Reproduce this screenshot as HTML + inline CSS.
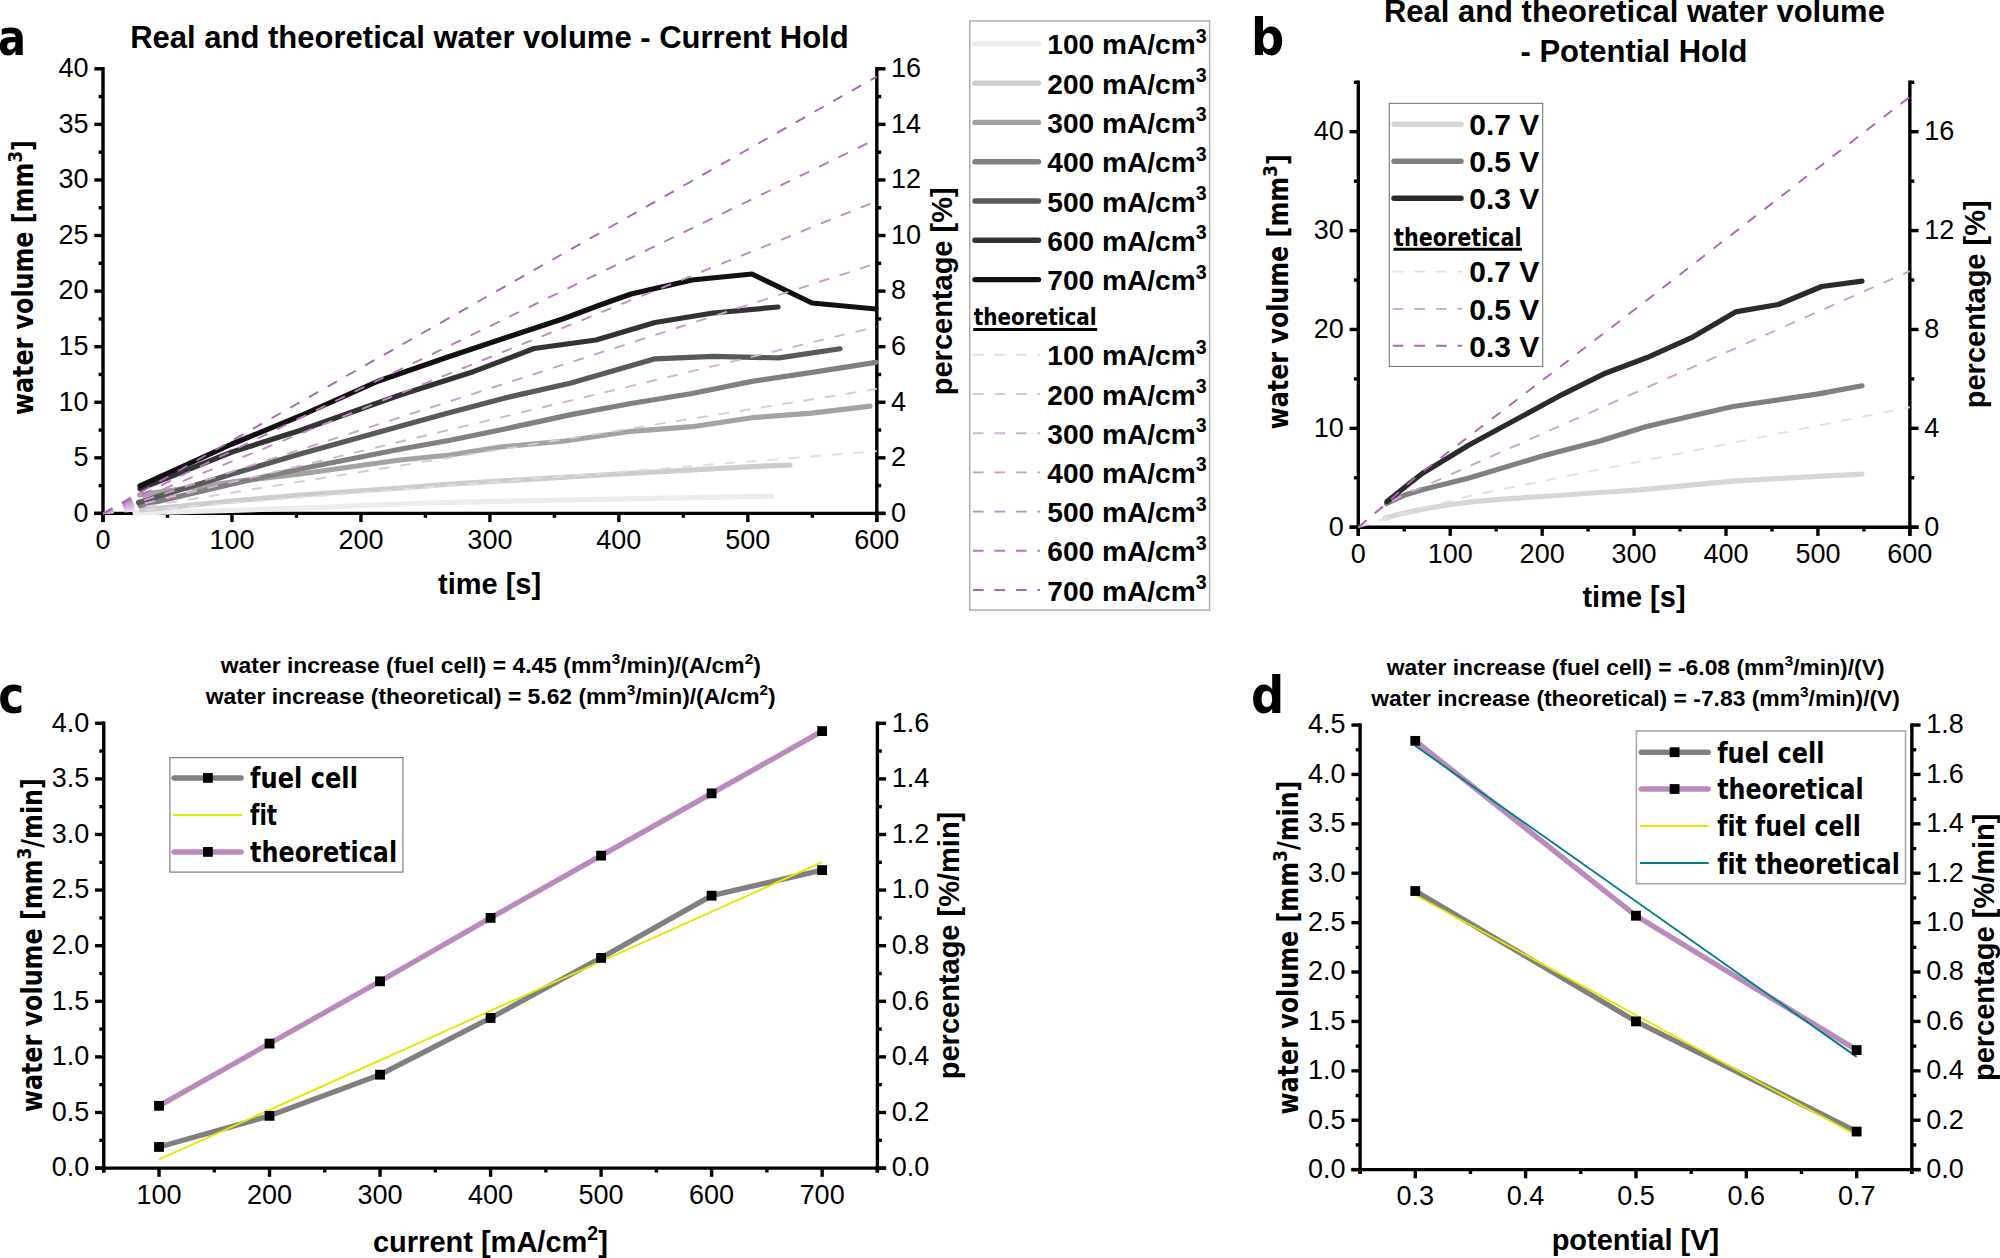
<!DOCTYPE html>
<html lang="en"><head><meta charset="utf-8"><title>Real and theoretical water volume</title>
<style>
html,body{margin:0;padding:0;background:#fff;}
body{width:2000px;height:1258px;overflow:hidden;}
svg{display:block;}
text{fill:#000;font-variant-ligatures:none;font-kerning:normal;}
</style></head><body>
<svg width="2000" height="1258" viewBox="0 0 2000 1258">
<rect width="2000" height="1258" fill="#fff"/>
<g id="panel-a">
<line x1="103" y1="67.1" x2="103" y2="522.1" stroke="#000" stroke-width="3.4" />
<line x1="94.3" y1="513.4" x2="885.5" y2="513.4" stroke="#000" stroke-width="3.4" />
<line x1="876.8" y1="67.1" x2="876.8" y2="522.1" stroke="#000" stroke-width="3.4" />
<line x1="103" y1="513.4" x2="103" y2="522.1" stroke="#000" stroke-width="3.4" />
<text x="103" y="549.2" font-size="27" text-anchor="middle" font-weight="normal" font-family="'Liberation Sans', sans-serif" >0</text>
<line x1="231.97" y1="513.4" x2="231.97" y2="522.1" stroke="#000" stroke-width="3.4" />
<text x="231.97" y="549.2" font-size="27" text-anchor="middle" font-weight="normal" font-family="'Liberation Sans', sans-serif" >100</text>
<line x1="360.93" y1="513.4" x2="360.93" y2="522.1" stroke="#000" stroke-width="3.4" />
<text x="360.93" y="549.2" font-size="27" text-anchor="middle" font-weight="normal" font-family="'Liberation Sans', sans-serif" >200</text>
<line x1="489.9" y1="513.4" x2="489.9" y2="522.1" stroke="#000" stroke-width="3.4" />
<text x="489.9" y="549.2" font-size="27" text-anchor="middle" font-weight="normal" font-family="'Liberation Sans', sans-serif" >300</text>
<line x1="618.87" y1="513.4" x2="618.87" y2="522.1" stroke="#000" stroke-width="3.4" />
<text x="618.87" y="549.2" font-size="27" text-anchor="middle" font-weight="normal" font-family="'Liberation Sans', sans-serif" >400</text>
<line x1="747.83" y1="513.4" x2="747.83" y2="522.1" stroke="#000" stroke-width="3.4" />
<text x="747.83" y="549.2" font-size="27" text-anchor="middle" font-weight="normal" font-family="'Liberation Sans', sans-serif" >500</text>
<line x1="876.8" y1="513.4" x2="876.8" y2="522.1" stroke="#000" stroke-width="3.4" />
<text x="876.8" y="549.2" font-size="27" text-anchor="middle" font-weight="normal" font-family="'Liberation Sans', sans-serif" >600</text>
<line x1="167.48" y1="513.4" x2="167.48" y2="517.8" stroke="#000" stroke-width="3.4" />
<line x1="296.45" y1="513.4" x2="296.45" y2="517.8" stroke="#000" stroke-width="3.4" />
<line x1="425.42" y1="513.4" x2="425.42" y2="517.8" stroke="#000" stroke-width="3.4" />
<line x1="554.38" y1="513.4" x2="554.38" y2="517.8" stroke="#000" stroke-width="3.4" />
<line x1="683.35" y1="513.4" x2="683.35" y2="517.8" stroke="#000" stroke-width="3.4" />
<line x1="812.32" y1="513.4" x2="812.32" y2="517.8" stroke="#000" stroke-width="3.4" />
<line x1="94.3" y1="513.4" x2="103" y2="513.4" stroke="#000" stroke-width="3.4" />
<text x="88.5" y="521.7" font-size="27" text-anchor="end" font-weight="normal" font-family="'Liberation Sans', sans-serif" >0</text>
<line x1="94.3" y1="457.82" x2="103" y2="457.82" stroke="#000" stroke-width="3.4" />
<text x="88.5" y="466.12" font-size="27" text-anchor="end" font-weight="normal" font-family="'Liberation Sans', sans-serif" >5</text>
<line x1="94.3" y1="402.25" x2="103" y2="402.25" stroke="#000" stroke-width="3.4" />
<text x="88.5" y="410.55" font-size="27" text-anchor="end" font-weight="normal" font-family="'Liberation Sans', sans-serif" >10</text>
<line x1="94.3" y1="346.68" x2="103" y2="346.68" stroke="#000" stroke-width="3.4" />
<text x="88.5" y="354.98" font-size="27" text-anchor="end" font-weight="normal" font-family="'Liberation Sans', sans-serif" >15</text>
<line x1="94.3" y1="291.1" x2="103" y2="291.1" stroke="#000" stroke-width="3.4" />
<text x="88.5" y="299.4" font-size="27" text-anchor="end" font-weight="normal" font-family="'Liberation Sans', sans-serif" >20</text>
<line x1="94.3" y1="235.52" x2="103" y2="235.52" stroke="#000" stroke-width="3.4" />
<text x="88.5" y="243.82" font-size="27" text-anchor="end" font-weight="normal" font-family="'Liberation Sans', sans-serif" >25</text>
<line x1="94.3" y1="179.95" x2="103" y2="179.95" stroke="#000" stroke-width="3.4" />
<text x="88.5" y="188.25" font-size="27" text-anchor="end" font-weight="normal" font-family="'Liberation Sans', sans-serif" >30</text>
<line x1="94.3" y1="124.38" x2="103" y2="124.38" stroke="#000" stroke-width="3.4" />
<text x="88.5" y="132.68" font-size="27" text-anchor="end" font-weight="normal" font-family="'Liberation Sans', sans-serif" >35</text>
<line x1="94.3" y1="68.8" x2="103" y2="68.8" stroke="#000" stroke-width="3.4" />
<text x="88.5" y="77.1" font-size="27" text-anchor="end" font-weight="normal" font-family="'Liberation Sans', sans-serif" >40</text>
<line x1="98.6" y1="485.61" x2="103" y2="485.61" stroke="#000" stroke-width="3.4" />
<line x1="98.6" y1="430.04" x2="103" y2="430.04" stroke="#000" stroke-width="3.4" />
<line x1="98.6" y1="374.46" x2="103" y2="374.46" stroke="#000" stroke-width="3.4" />
<line x1="98.6" y1="318.89" x2="103" y2="318.89" stroke="#000" stroke-width="3.4" />
<line x1="98.6" y1="263.31" x2="103" y2="263.31" stroke="#000" stroke-width="3.4" />
<line x1="98.6" y1="207.74" x2="103" y2="207.74" stroke="#000" stroke-width="3.4" />
<line x1="98.6" y1="152.16" x2="103" y2="152.16" stroke="#000" stroke-width="3.4" />
<line x1="98.6" y1="96.59" x2="103" y2="96.59" stroke="#000" stroke-width="3.4" />
<line x1="876.8" y1="513.4" x2="885.5" y2="513.4" stroke="#000" stroke-width="3.4" />
<text x="891.1" y="521.7" font-size="27" text-anchor="start" font-weight="normal" font-family="'Liberation Sans', sans-serif" >0</text>
<line x1="876.8" y1="457.82" x2="885.5" y2="457.82" stroke="#000" stroke-width="3.4" />
<text x="891.1" y="466.12" font-size="27" text-anchor="start" font-weight="normal" font-family="'Liberation Sans', sans-serif" >2</text>
<line x1="876.8" y1="402.25" x2="885.5" y2="402.25" stroke="#000" stroke-width="3.4" />
<text x="891.1" y="410.55" font-size="27" text-anchor="start" font-weight="normal" font-family="'Liberation Sans', sans-serif" >4</text>
<line x1="876.8" y1="346.68" x2="885.5" y2="346.68" stroke="#000" stroke-width="3.4" />
<text x="891.1" y="354.98" font-size="27" text-anchor="start" font-weight="normal" font-family="'Liberation Sans', sans-serif" >6</text>
<line x1="876.8" y1="291.1" x2="885.5" y2="291.1" stroke="#000" stroke-width="3.4" />
<text x="891.1" y="299.4" font-size="27" text-anchor="start" font-weight="normal" font-family="'Liberation Sans', sans-serif" >8</text>
<line x1="876.8" y1="235.52" x2="885.5" y2="235.52" stroke="#000" stroke-width="3.4" />
<text x="891.1" y="243.82" font-size="27" text-anchor="start" font-weight="normal" font-family="'Liberation Sans', sans-serif" >10</text>
<line x1="876.8" y1="179.95" x2="885.5" y2="179.95" stroke="#000" stroke-width="3.4" />
<text x="891.1" y="188.25" font-size="27" text-anchor="start" font-weight="normal" font-family="'Liberation Sans', sans-serif" >12</text>
<line x1="876.8" y1="124.38" x2="885.5" y2="124.38" stroke="#000" stroke-width="3.4" />
<text x="891.1" y="132.68" font-size="27" text-anchor="start" font-weight="normal" font-family="'Liberation Sans', sans-serif" >14</text>
<line x1="876.8" y1="68.8" x2="885.5" y2="68.8" stroke="#000" stroke-width="3.4" />
<text x="891.1" y="77.1" font-size="27" text-anchor="start" font-weight="normal" font-family="'Liberation Sans', sans-serif" >16</text>
<line x1="876.8" y1="485.61" x2="881.2" y2="485.61" stroke="#000" stroke-width="3.4" />
<line x1="876.8" y1="430.04" x2="881.2" y2="430.04" stroke="#000" stroke-width="3.4" />
<line x1="876.8" y1="374.46" x2="881.2" y2="374.46" stroke="#000" stroke-width="3.4" />
<line x1="876.8" y1="318.89" x2="881.2" y2="318.89" stroke="#000" stroke-width="3.4" />
<line x1="876.8" y1="263.31" x2="881.2" y2="263.31" stroke="#000" stroke-width="3.4" />
<line x1="876.8" y1="207.74" x2="881.2" y2="207.74" stroke="#000" stroke-width="3.4" />
<line x1="876.8" y1="152.16" x2="881.2" y2="152.16" stroke="#000" stroke-width="3.4" />
<line x1="876.8" y1="96.59" x2="881.2" y2="96.59" stroke="#000" stroke-width="3.4" />
<polyline points="135,512.8 232,510.5 300,508 400,504 450,502.3 600,499.3 772,496.2" fill="none" stroke="#ececec" stroke-width="5.2" stroke-linecap="round" stroke-linejoin="round"/>
<polyline points="141.5,510 232,501 300,495 400,488 450,484.1 500,481 601,475 752,466.6 790,465.1" fill="none" stroke="#cdcdcd" stroke-width="5.2" stroke-linecap="round" stroke-linejoin="round"/>
<polyline points="139.5,494.8 232,482 300,474 400,460 450,455 500,447 565,441 631,431.3 692,426.7 752,417.7 812,413.1 870,406.2" fill="none" stroke="#a3a3a3" stroke-width="5.2" stroke-linecap="round" stroke-linejoin="round"/>
<polyline points="140,505.6 232,484 300,469 400,449.3 450,440.3 500,430 571,414.6 631,403.5 692,393.5 752,381.4 812,372.4 876,362.4" fill="none" stroke="#808080" stroke-width="5.2" stroke-linecap="round" stroke-linejoin="round"/>
<polyline points="138.5,502.6 232,474 300,454 400,426.2 450,412.4 507,397.5 571,383 655,358.8 713,356.3 779,357.9 840,348.8" fill="none" stroke="#595959" stroke-width="5.2" stroke-linecap="round" stroke-linejoin="round"/>
<polyline points="140,488.8 232,452 300,430.5 400,395 474,371.4 534,348.5 596,340 655,322.5 713,313 778,307" fill="none" stroke="#333333" stroke-width="5.2" stroke-linecap="round" stroke-linejoin="round"/>
<polyline points="140,485.8 232,444 300,416 378.5,381 445,358 520,333 564,318.5 600,305 631,294 692,280 752,274 812,303 876,309" fill="none" stroke="#111111" stroke-width="5.2" stroke-linecap="round" stroke-linejoin="round"/>
<line x1="103" y1="513.4" x2="876.8" y2="451.16" stroke="#ead7ea" stroke-width="1.9" stroke-dasharray="10.7 10.8"/>
<line x1="103" y1="513.4" x2="876.8" y2="388.91" stroke="#dfc4e1" stroke-width="1.9" stroke-dasharray="10.7 10.8"/>
<line x1="103" y1="513.4" x2="876.8" y2="326.67" stroke="#d5b1d7" stroke-width="1.9" stroke-dasharray="10.7 10.8"/>
<line x1="103" y1="513.4" x2="876.8" y2="263.31" stroke="#ca9ecd" stroke-width="1.9" stroke-dasharray="10.7 10.8"/>
<line x1="103" y1="513.4" x2="876.8" y2="201.07" stroke="#c08bc4" stroke-width="1.9" stroke-dasharray="10.7 10.8"/>
<line x1="103" y1="513.4" x2="876.8" y2="138.82" stroke="#b578ba" stroke-width="1.9" stroke-dasharray="10.7 10.8"/>
<line x1="103" y1="513.4" x2="876.8" y2="76.58" stroke="#ab66b1" stroke-width="1.9" stroke-dasharray="10.7 10.8"/>
<text x="130.2" y="48" font-size="31" text-anchor="start" font-weight="bold" font-family="'Liberation Sans', sans-serif" textLength="718.5" lengthAdjust="spacingAndGlyphs">Real and theoretical water volume - Current Hold</text>
<text x="489.6" y="593.6" font-size="29" text-anchor="middle" font-weight="bold" font-family="'Liberation Sans', sans-serif" >time [s]</text>
<text transform="translate(33.2 277.5) rotate(-90)" font-size="28" text-anchor="middle" font-weight="bold" font-family="'DejaVu Sans Condensed', 'DejaVu Sans', 'Liberation Sans', sans-serif" textLength="275" lengthAdjust="spacingAndGlyphs">water volume [mm<tspan dy="-11.2" font-size="72%">3</tspan><tspan dy="11.2">]</tspan></text>
<text transform="translate(952.1 291.3) rotate(-90)" font-size="29" text-anchor="middle" font-weight="bold" font-family="'Liberation Sans', sans-serif" >percentage [%]</text>
<text x="-2" y="55.2" font-size="50.5" text-anchor="start" font-weight="bold" font-family="'DejaVu Sans Condensed', 'DejaVu Sans', 'Liberation Sans', sans-serif" textLength="28" lengthAdjust="spacingAndGlyphs">a</text>
<rect x="969.7" y="20.9" width="239.9" height="589.2" fill="#fff" stroke="#a9a9a9" stroke-width="1.4"/>
<line x1="975" y1="43.75" x2="1038.5" y2="43.75" stroke="#ececec" stroke-width="5.4" stroke-linecap="round"/>
<text x="1047.3" y="54.35" font-size="28.1" text-anchor="start" font-weight="bold" font-family="'Liberation Sans', sans-serif" >100 mA/cm<tspan dy="-11.6" font-size="70%">3</tspan></text>
<line x1="975" y1="83.1" x2="1038.5" y2="83.1" stroke="#cdcdcd" stroke-width="5.4" stroke-linecap="round"/>
<text x="1047.3" y="93.7" font-size="28.1" text-anchor="start" font-weight="bold" font-family="'Liberation Sans', sans-serif" >200 mA/cm<tspan dy="-11.6" font-size="70%">3</tspan></text>
<line x1="975" y1="122.4" x2="1038.5" y2="122.4" stroke="#a3a3a3" stroke-width="5.4" stroke-linecap="round"/>
<text x="1047.3" y="133" font-size="28.1" text-anchor="start" font-weight="bold" font-family="'Liberation Sans', sans-serif" >300 mA/cm<tspan dy="-11.6" font-size="70%">3</tspan></text>
<line x1="975" y1="161.7" x2="1038.5" y2="161.7" stroke="#808080" stroke-width="5.4" stroke-linecap="round"/>
<text x="1047.3" y="172.3" font-size="28.1" text-anchor="start" font-weight="bold" font-family="'Liberation Sans', sans-serif" >400 mA/cm<tspan dy="-11.6" font-size="70%">3</tspan></text>
<line x1="975" y1="201" x2="1038.5" y2="201" stroke="#595959" stroke-width="5.4" stroke-linecap="round"/>
<text x="1047.3" y="211.6" font-size="28.1" text-anchor="start" font-weight="bold" font-family="'Liberation Sans', sans-serif" >500 mA/cm<tspan dy="-11.6" font-size="70%">3</tspan></text>
<line x1="975" y1="240.3" x2="1038.5" y2="240.3" stroke="#333333" stroke-width="5.4" stroke-linecap="round"/>
<text x="1047.3" y="250.9" font-size="28.1" text-anchor="start" font-weight="bold" font-family="'Liberation Sans', sans-serif" >600 mA/cm<tspan dy="-11.6" font-size="70%">3</tspan></text>
<line x1="975" y1="279.6" x2="1038.5" y2="279.6" stroke="#111111" stroke-width="5.4" stroke-linecap="round"/>
<text x="1047.3" y="290.2" font-size="28.1" text-anchor="start" font-weight="bold" font-family="'Liberation Sans', sans-serif" >700 mA/cm<tspan dy="-11.6" font-size="70%">3</tspan></text>
<text x="973.7" y="325.4" font-size="23" text-anchor="start" font-weight="bold" font-family="'DejaVu Sans Condensed', 'DejaVu Sans', 'Liberation Sans', sans-serif" textLength="123" lengthAdjust="spacingAndGlyphs">theoretical</text>
<line x1="973.3" y1="329.4" x2="1097.2" y2="329.4" stroke="#000" stroke-width="3" />
<line x1="972.9" y1="354.7" x2="1040" y2="354.7" stroke="#ead7ea" stroke-width="1.9" stroke-dasharray="10.7 10.8"/>
<text x="1047.3" y="365.3" font-size="28.1" text-anchor="start" font-weight="bold" font-family="'Liberation Sans', sans-serif" >100 mA/cm<tspan dy="-11.6" font-size="70%">3</tspan></text>
<line x1="972.9" y1="394" x2="1040" y2="394" stroke="#dfc4e1" stroke-width="1.9" stroke-dasharray="10.7 10.8"/>
<text x="1047.3" y="404.6" font-size="28.1" text-anchor="start" font-weight="bold" font-family="'Liberation Sans', sans-serif" >200 mA/cm<tspan dy="-11.6" font-size="70%">3</tspan></text>
<line x1="972.9" y1="433.2" x2="1040" y2="433.2" stroke="#d5b1d7" stroke-width="1.9" stroke-dasharray="10.7 10.8"/>
<text x="1047.3" y="443.8" font-size="28.1" text-anchor="start" font-weight="bold" font-family="'Liberation Sans', sans-serif" >300 mA/cm<tspan dy="-11.6" font-size="70%">3</tspan></text>
<line x1="972.9" y1="472.4" x2="1040" y2="472.4" stroke="#ca9ecd" stroke-width="1.9" stroke-dasharray="10.7 10.8"/>
<text x="1047.3" y="483" font-size="28.1" text-anchor="start" font-weight="bold" font-family="'Liberation Sans', sans-serif" >400 mA/cm<tspan dy="-11.6" font-size="70%">3</tspan></text>
<line x1="972.9" y1="511.6" x2="1040" y2="511.6" stroke="#c08bc4" stroke-width="1.9" stroke-dasharray="10.7 10.8"/>
<text x="1047.3" y="522.2" font-size="28.1" text-anchor="start" font-weight="bold" font-family="'Liberation Sans', sans-serif" >500 mA/cm<tspan dy="-11.6" font-size="70%">3</tspan></text>
<line x1="972.9" y1="550.8" x2="1040" y2="550.8" stroke="#b578ba" stroke-width="1.9" stroke-dasharray="10.7 10.8"/>
<text x="1047.3" y="561.4" font-size="28.1" text-anchor="start" font-weight="bold" font-family="'Liberation Sans', sans-serif" >600 mA/cm<tspan dy="-11.6" font-size="70%">3</tspan></text>
<line x1="972.9" y1="590" x2="1040" y2="590" stroke="#ab66b1" stroke-width="1.9" stroke-dasharray="10.7 10.8"/>
<text x="1047.3" y="600.6" font-size="28.1" text-anchor="start" font-weight="bold" font-family="'Liberation Sans', sans-serif" >700 mA/cm<tspan dy="-11.6" font-size="70%">3</tspan></text>
</g>
<g id="panel-b">
<line x1="1358.3" y1="80.6" x2="1358.3" y2="535.9" stroke="#000" stroke-width="3.4" />
<line x1="1349.6" y1="527.2" x2="1918.55" y2="527.2" stroke="#000" stroke-width="3.4" />
<line x1="1909.85" y1="80.6" x2="1909.85" y2="535.9" stroke="#000" stroke-width="3.4" />
<line x1="1358.3" y1="527.2" x2="1358.3" y2="535.9" stroke="#000" stroke-width="3.4" />
<text x="1358.3" y="563" font-size="27" text-anchor="middle" font-weight="normal" font-family="'Liberation Sans', sans-serif" >0</text>
<line x1="1450.22" y1="527.2" x2="1450.22" y2="535.9" stroke="#000" stroke-width="3.4" />
<text x="1450.22" y="563" font-size="27" text-anchor="middle" font-weight="normal" font-family="'Liberation Sans', sans-serif" >100</text>
<line x1="1542.15" y1="527.2" x2="1542.15" y2="535.9" stroke="#000" stroke-width="3.4" />
<text x="1542.15" y="563" font-size="27" text-anchor="middle" font-weight="normal" font-family="'Liberation Sans', sans-serif" >200</text>
<line x1="1634.07" y1="527.2" x2="1634.07" y2="535.9" stroke="#000" stroke-width="3.4" />
<text x="1634.07" y="563" font-size="27" text-anchor="middle" font-weight="normal" font-family="'Liberation Sans', sans-serif" >300</text>
<line x1="1726" y1="527.2" x2="1726" y2="535.9" stroke="#000" stroke-width="3.4" />
<text x="1726" y="563" font-size="27" text-anchor="middle" font-weight="normal" font-family="'Liberation Sans', sans-serif" >400</text>
<line x1="1817.92" y1="527.2" x2="1817.92" y2="535.9" stroke="#000" stroke-width="3.4" />
<text x="1817.92" y="563" font-size="27" text-anchor="middle" font-weight="normal" font-family="'Liberation Sans', sans-serif" >500</text>
<line x1="1909.85" y1="527.2" x2="1909.85" y2="535.9" stroke="#000" stroke-width="3.4" />
<text x="1909.85" y="563" font-size="27" text-anchor="middle" font-weight="normal" font-family="'Liberation Sans', sans-serif" >600</text>
<line x1="1404.26" y1="527.2" x2="1404.26" y2="531.6" stroke="#000" stroke-width="3.4" />
<line x1="1496.19" y1="527.2" x2="1496.19" y2="531.6" stroke="#000" stroke-width="3.4" />
<line x1="1588.11" y1="527.2" x2="1588.11" y2="531.6" stroke="#000" stroke-width="3.4" />
<line x1="1680.04" y1="527.2" x2="1680.04" y2="531.6" stroke="#000" stroke-width="3.4" />
<line x1="1771.96" y1="527.2" x2="1771.96" y2="531.6" stroke="#000" stroke-width="3.4" />
<line x1="1863.89" y1="527.2" x2="1863.89" y2="531.6" stroke="#000" stroke-width="3.4" />
<line x1="1349.6" y1="527.2" x2="1358.3" y2="527.2" stroke="#000" stroke-width="3.4" />
<text x="1343.8" y="535.5" font-size="27" text-anchor="end" font-weight="normal" font-family="'Liberation Sans', sans-serif" >0</text>
<line x1="1349.6" y1="428.33" x2="1358.3" y2="428.33" stroke="#000" stroke-width="3.4" />
<text x="1343.8" y="436.63" font-size="27" text-anchor="end" font-weight="normal" font-family="'Liberation Sans', sans-serif" >10</text>
<line x1="1349.6" y1="329.47" x2="1358.3" y2="329.47" stroke="#000" stroke-width="3.4" />
<text x="1343.8" y="337.77" font-size="27" text-anchor="end" font-weight="normal" font-family="'Liberation Sans', sans-serif" >20</text>
<line x1="1349.6" y1="230.6" x2="1358.3" y2="230.6" stroke="#000" stroke-width="3.4" />
<text x="1343.8" y="238.9" font-size="27" text-anchor="end" font-weight="normal" font-family="'Liberation Sans', sans-serif" >30</text>
<line x1="1349.6" y1="131.73" x2="1358.3" y2="131.73" stroke="#000" stroke-width="3.4" />
<text x="1343.8" y="140.03" font-size="27" text-anchor="end" font-weight="normal" font-family="'Liberation Sans', sans-serif" >40</text>
<line x1="1353.9" y1="477.77" x2="1358.3" y2="477.77" stroke="#000" stroke-width="3.4" />
<line x1="1353.9" y1="378.9" x2="1358.3" y2="378.9" stroke="#000" stroke-width="3.4" />
<line x1="1353.9" y1="280.03" x2="1358.3" y2="280.03" stroke="#000" stroke-width="3.4" />
<line x1="1353.9" y1="181.17" x2="1358.3" y2="181.17" stroke="#000" stroke-width="3.4" />
<line x1="1353.9" y1="82.3" x2="1358.3" y2="82.3" stroke="#000" stroke-width="3.4" />
<line x1="1909.85" y1="527.2" x2="1918.55" y2="527.2" stroke="#000" stroke-width="3.4" />
<text x="1924.15" y="535.5" font-size="27" text-anchor="start" font-weight="normal" font-family="'Liberation Sans', sans-serif" >0</text>
<line x1="1909.85" y1="428.33" x2="1918.55" y2="428.33" stroke="#000" stroke-width="3.4" />
<text x="1924.15" y="436.63" font-size="27" text-anchor="start" font-weight="normal" font-family="'Liberation Sans', sans-serif" >4</text>
<line x1="1909.85" y1="329.47" x2="1918.55" y2="329.47" stroke="#000" stroke-width="3.4" />
<text x="1924.15" y="337.77" font-size="27" text-anchor="start" font-weight="normal" font-family="'Liberation Sans', sans-serif" >8</text>
<line x1="1909.85" y1="230.6" x2="1918.55" y2="230.6" stroke="#000" stroke-width="3.4" />
<text x="1924.15" y="238.9" font-size="27" text-anchor="start" font-weight="normal" font-family="'Liberation Sans', sans-serif" >12</text>
<line x1="1909.85" y1="131.73" x2="1918.55" y2="131.73" stroke="#000" stroke-width="3.4" />
<text x="1924.15" y="140.03" font-size="27" text-anchor="start" font-weight="normal" font-family="'Liberation Sans', sans-serif" >16</text>
<line x1="1909.85" y1="477.77" x2="1914.25" y2="477.77" stroke="#000" stroke-width="3.4" />
<line x1="1909.85" y1="378.9" x2="1914.25" y2="378.9" stroke="#000" stroke-width="3.4" />
<line x1="1909.85" y1="280.03" x2="1914.25" y2="280.03" stroke="#000" stroke-width="3.4" />
<line x1="1909.85" y1="181.17" x2="1914.25" y2="181.17" stroke="#000" stroke-width="3.4" />
<line x1="1909.85" y1="82.3" x2="1914.25" y2="82.3" stroke="#000" stroke-width="3.4" />
<polyline points="1385,518 1400,514 1425,508.6 1450,504.6 1473.4,501.6 1510,498.6 1550,496 1600,492.5 1640,489.8 1733,481.2 1817,476.3 1862,474.2" fill="none" stroke="#d6d6d6" stroke-width="5.2" stroke-linecap="round" stroke-linejoin="round"/>
<polyline points="1386.5,503.5 1405,495 1423,489.6 1469,478 1545,455.2 1600,441 1646.5,426.5 1700,414 1733,406.5 1817,394.1 1862,385.8" fill="none" stroke="#808080" stroke-width="5.2" stroke-linecap="round" stroke-linejoin="round"/>
<polyline points="1387,501.5 1410,483 1423,473 1469,445 1541,406 1558,396.7 1604,373.8 1646.5,357.8 1691.5,337.7 1735.5,311.9 1778.3,304.5 1821.7,286.5 1862,281.2" fill="none" stroke="#2b2b2b" stroke-width="5.2" stroke-linecap="round" stroke-linejoin="round"/>
<polyline points="1358.4,527.2 1388.6,517.5 1430.5,505.7 1471.8,495.5 1514.2,486.9 1550,479.6 1700,449.4 1830.7,423 1909.85,407.3" fill="none" stroke="#ecd9ec" stroke-width="1.9" stroke-dasharray="10.7 10.8"/>
<polyline points="1358.4,527.2 1383.3,506.2 1400.4,496.6 1439.6,479.5 1477.7,462.4 1536.2,436.5 1610,403.8 1735.4,348.3 1830.7,306.1 1909.85,271.1" fill="none" stroke="#cfa0d2" stroke-width="1.9" stroke-dasharray="10.7 10.8"/>
<polyline points="1358.4,527.2 1383.3,506.2 1415.5,477.3 1447.6,452.6 1481.4,426.8 1516.3,400.3 1543.4,379.6 1640,305.5 1722,242 1909.85,96.8" fill="none" stroke="#ad66b3" stroke-width="1.9" stroke-dasharray="10.7 10.8"/>
<text x="1634.4" y="21.6" font-size="31" text-anchor="middle" font-weight="bold" font-family="'Liberation Sans', sans-serif" textLength="501" lengthAdjust="spacingAndGlyphs">Real and theoretical water volume</text>
<text x="1634" y="61.8" font-size="31" text-anchor="middle" font-weight="bold" font-family="'Liberation Sans', sans-serif" textLength="227" lengthAdjust="spacingAndGlyphs">- Potential Hold</text>
<text x="1634" y="607.4" font-size="29" text-anchor="middle" font-weight="bold" font-family="'Liberation Sans', sans-serif" >time [s]</text>
<text transform="translate(1288.4 291.7) rotate(-90)" font-size="28" text-anchor="middle" font-weight="bold" font-family="'DejaVu Sans Condensed', 'DejaVu Sans', 'Liberation Sans', sans-serif" textLength="275" lengthAdjust="spacingAndGlyphs">water volume [mm<tspan dy="-11.2" font-size="72%">3</tspan><tspan dy="11.2">]</tspan></text>
<text transform="translate(1985.1 304.3) rotate(-90)" font-size="29" text-anchor="middle" font-weight="bold" font-family="'Liberation Sans', sans-serif" >percentage [%]</text>
<text x="1251" y="54.8" font-size="51.5" text-anchor="start" font-weight="bold" font-family="'DejaVu Sans Condensed', 'DejaVu Sans', 'Liberation Sans', sans-serif" textLength="33.2" lengthAdjust="spacingAndGlyphs">b</text>
<rect x="1389.3" y="103.35" width="153.4" height="263.1" fill="#fff" stroke="#7a7a7a" stroke-width="1.1"/>
<line x1="1394" y1="124.2" x2="1461" y2="124.2" stroke="#d6d6d6" stroke-width="5.5" stroke-linecap="round"/>
<text x="1469.3" y="134.9" font-size="30" text-anchor="start" font-weight="bold" font-family="'Liberation Sans', sans-serif" >0.7 V</text>
<line x1="1394" y1="161.2" x2="1461" y2="161.2" stroke="#808080" stroke-width="5.5" stroke-linecap="round"/>
<text x="1469.3" y="171.9" font-size="30" text-anchor="start" font-weight="bold" font-family="'Liberation Sans', sans-serif" >0.5 V</text>
<line x1="1394" y1="198.2" x2="1461" y2="198.2" stroke="#2b2b2b" stroke-width="5.5" stroke-linecap="round"/>
<text x="1469.3" y="208.9" font-size="30" text-anchor="start" font-weight="bold" font-family="'Liberation Sans', sans-serif" >0.3 V</text>
<text x="1394" y="245.5" font-size="24.2" text-anchor="start" font-weight="bold" font-family="'DejaVu Sans Condensed', 'DejaVu Sans', 'Liberation Sans', sans-serif" textLength="127.6" lengthAdjust="spacingAndGlyphs">theoretical</text>
<line x1="1393.5" y1="249.3" x2="1522" y2="249.3" stroke="#000" stroke-width="3.1" />
<line x1="1392.7" y1="271.6" x2="1462" y2="271.6" stroke="#ecd9ec" stroke-width="1.9" stroke-dasharray="10.7 10.9"/>
<text x="1469.3" y="282.3" font-size="30" text-anchor="start" font-weight="bold" font-family="'Liberation Sans', sans-serif" >0.7 V</text>
<line x1="1392.7" y1="308.9" x2="1462" y2="308.9" stroke="#cfa0d2" stroke-width="1.9" stroke-dasharray="10.7 10.9"/>
<text x="1469.3" y="319.6" font-size="30" text-anchor="start" font-weight="bold" font-family="'Liberation Sans', sans-serif" >0.5 V</text>
<line x1="1392.7" y1="345.8" x2="1462" y2="345.8" stroke="#ad66b3" stroke-width="1.9" stroke-dasharray="10.7 10.9"/>
<text x="1469.3" y="356.5" font-size="30" text-anchor="start" font-weight="bold" font-family="'Liberation Sans', sans-serif" >0.3 V</text>
</g>
<g id="panel-c">
<line x1="103.75" y1="721.6" x2="103.75" y2="1172.5" stroke="#000" stroke-width="3.4" />
<line x1="95.05" y1="1168.1" x2="886.1" y2="1168.1" stroke="#000" stroke-width="3.4" />
<line x1="877.4" y1="721.6" x2="877.4" y2="1172.5" stroke="#000" stroke-width="3.4" />
<line x1="159.01" y1="1168.1" x2="159.01" y2="1176.8" stroke="#000" stroke-width="3.4" />
<text x="159.01" y="1203.9" font-size="27" text-anchor="middle" font-weight="normal" font-family="'Liberation Sans', sans-serif" >100</text>
<line x1="269.53" y1="1168.1" x2="269.53" y2="1176.8" stroke="#000" stroke-width="3.4" />
<text x="269.53" y="1203.9" font-size="27" text-anchor="middle" font-weight="normal" font-family="'Liberation Sans', sans-serif" >200</text>
<line x1="380.05" y1="1168.1" x2="380.05" y2="1176.8" stroke="#000" stroke-width="3.4" />
<text x="380.05" y="1203.9" font-size="27" text-anchor="middle" font-weight="normal" font-family="'Liberation Sans', sans-serif" >300</text>
<line x1="490.57" y1="1168.1" x2="490.57" y2="1176.8" stroke="#000" stroke-width="3.4" />
<text x="490.57" y="1203.9" font-size="27" text-anchor="middle" font-weight="normal" font-family="'Liberation Sans', sans-serif" >400</text>
<line x1="601.1" y1="1168.1" x2="601.1" y2="1176.8" stroke="#000" stroke-width="3.4" />
<text x="601.1" y="1203.9" font-size="27" text-anchor="middle" font-weight="normal" font-family="'Liberation Sans', sans-serif" >500</text>
<line x1="711.62" y1="1168.1" x2="711.62" y2="1176.8" stroke="#000" stroke-width="3.4" />
<text x="711.62" y="1203.9" font-size="27" text-anchor="middle" font-weight="normal" font-family="'Liberation Sans', sans-serif" >600</text>
<line x1="822.14" y1="1168.1" x2="822.14" y2="1176.8" stroke="#000" stroke-width="3.4" />
<text x="822.14" y="1203.9" font-size="27" text-anchor="middle" font-weight="normal" font-family="'Liberation Sans', sans-serif" >700</text>
<line x1="103.75" y1="1168.1" x2="103.75" y2="1172.5" stroke="#000" stroke-width="3.4" />
<line x1="214.27" y1="1168.1" x2="214.27" y2="1172.5" stroke="#000" stroke-width="3.4" />
<line x1="324.79" y1="1168.1" x2="324.79" y2="1172.5" stroke="#000" stroke-width="3.4" />
<line x1="435.31" y1="1168.1" x2="435.31" y2="1172.5" stroke="#000" stroke-width="3.4" />
<line x1="545.84" y1="1168.1" x2="545.84" y2="1172.5" stroke="#000" stroke-width="3.4" />
<line x1="656.36" y1="1168.1" x2="656.36" y2="1172.5" stroke="#000" stroke-width="3.4" />
<line x1="766.88" y1="1168.1" x2="766.88" y2="1172.5" stroke="#000" stroke-width="3.4" />
<line x1="877.4" y1="1168.1" x2="877.4" y2="1172.5" stroke="#000" stroke-width="3.4" />
<line x1="95.05" y1="1168.1" x2="103.75" y2="1168.1" stroke="#000" stroke-width="3.4" />
<text x="89.25" y="1176.4" font-size="27" text-anchor="end" font-weight="normal" font-family="'Liberation Sans', sans-serif" >0.0</text>
<line x1="95.05" y1="1112.5" x2="103.75" y2="1112.5" stroke="#000" stroke-width="3.4" />
<text x="89.25" y="1120.8" font-size="27" text-anchor="end" font-weight="normal" font-family="'Liberation Sans', sans-serif" >0.5</text>
<line x1="95.05" y1="1056.9" x2="103.75" y2="1056.9" stroke="#000" stroke-width="3.4" />
<text x="89.25" y="1065.2" font-size="27" text-anchor="end" font-weight="normal" font-family="'Liberation Sans', sans-serif" >1.0</text>
<line x1="95.05" y1="1001.3" x2="103.75" y2="1001.3" stroke="#000" stroke-width="3.4" />
<text x="89.25" y="1009.6" font-size="27" text-anchor="end" font-weight="normal" font-family="'Liberation Sans', sans-serif" >1.5</text>
<line x1="95.05" y1="945.7" x2="103.75" y2="945.7" stroke="#000" stroke-width="3.4" />
<text x="89.25" y="954" font-size="27" text-anchor="end" font-weight="normal" font-family="'Liberation Sans', sans-serif" >2.0</text>
<line x1="95.05" y1="890.1" x2="103.75" y2="890.1" stroke="#000" stroke-width="3.4" />
<text x="89.25" y="898.4" font-size="27" text-anchor="end" font-weight="normal" font-family="'Liberation Sans', sans-serif" >2.5</text>
<line x1="95.05" y1="834.5" x2="103.75" y2="834.5" stroke="#000" stroke-width="3.4" />
<text x="89.25" y="842.8" font-size="27" text-anchor="end" font-weight="normal" font-family="'Liberation Sans', sans-serif" >3.0</text>
<line x1="95.05" y1="778.9" x2="103.75" y2="778.9" stroke="#000" stroke-width="3.4" />
<text x="89.25" y="787.2" font-size="27" text-anchor="end" font-weight="normal" font-family="'Liberation Sans', sans-serif" >3.5</text>
<line x1="95.05" y1="723.3" x2="103.75" y2="723.3" stroke="#000" stroke-width="3.4" />
<text x="89.25" y="731.6" font-size="27" text-anchor="end" font-weight="normal" font-family="'Liberation Sans', sans-serif" >4.0</text>
<line x1="99.35" y1="1140.3" x2="103.75" y2="1140.3" stroke="#000" stroke-width="3.4" />
<line x1="99.35" y1="1084.7" x2="103.75" y2="1084.7" stroke="#000" stroke-width="3.4" />
<line x1="99.35" y1="1029.1" x2="103.75" y2="1029.1" stroke="#000" stroke-width="3.4" />
<line x1="99.35" y1="973.5" x2="103.75" y2="973.5" stroke="#000" stroke-width="3.4" />
<line x1="99.35" y1="917.9" x2="103.75" y2="917.9" stroke="#000" stroke-width="3.4" />
<line x1="99.35" y1="862.3" x2="103.75" y2="862.3" stroke="#000" stroke-width="3.4" />
<line x1="99.35" y1="806.7" x2="103.75" y2="806.7" stroke="#000" stroke-width="3.4" />
<line x1="99.35" y1="751.1" x2="103.75" y2="751.1" stroke="#000" stroke-width="3.4" />
<line x1="877.4" y1="1168.1" x2="886.1" y2="1168.1" stroke="#000" stroke-width="3.4" />
<text x="891.7" y="1176.4" font-size="27" text-anchor="start" font-weight="normal" font-family="'Liberation Sans', sans-serif" >0.0</text>
<line x1="877.4" y1="1112.5" x2="886.1" y2="1112.5" stroke="#000" stroke-width="3.4" />
<text x="891.7" y="1120.8" font-size="27" text-anchor="start" font-weight="normal" font-family="'Liberation Sans', sans-serif" >0.2</text>
<line x1="877.4" y1="1056.9" x2="886.1" y2="1056.9" stroke="#000" stroke-width="3.4" />
<text x="891.7" y="1065.2" font-size="27" text-anchor="start" font-weight="normal" font-family="'Liberation Sans', sans-serif" >0.4</text>
<line x1="877.4" y1="1001.3" x2="886.1" y2="1001.3" stroke="#000" stroke-width="3.4" />
<text x="891.7" y="1009.6" font-size="27" text-anchor="start" font-weight="normal" font-family="'Liberation Sans', sans-serif" >0.6</text>
<line x1="877.4" y1="945.7" x2="886.1" y2="945.7" stroke="#000" stroke-width="3.4" />
<text x="891.7" y="954" font-size="27" text-anchor="start" font-weight="normal" font-family="'Liberation Sans', sans-serif" >0.8</text>
<line x1="877.4" y1="890.1" x2="886.1" y2="890.1" stroke="#000" stroke-width="3.4" />
<text x="891.7" y="898.4" font-size="27" text-anchor="start" font-weight="normal" font-family="'Liberation Sans', sans-serif" >1.0</text>
<line x1="877.4" y1="834.5" x2="886.1" y2="834.5" stroke="#000" stroke-width="3.4" />
<text x="891.7" y="842.8" font-size="27" text-anchor="start" font-weight="normal" font-family="'Liberation Sans', sans-serif" >1.2</text>
<line x1="877.4" y1="778.9" x2="886.1" y2="778.9" stroke="#000" stroke-width="3.4" />
<text x="891.7" y="787.2" font-size="27" text-anchor="start" font-weight="normal" font-family="'Liberation Sans', sans-serif" >1.4</text>
<line x1="877.4" y1="723.3" x2="886.1" y2="723.3" stroke="#000" stroke-width="3.4" />
<text x="891.7" y="731.6" font-size="27" text-anchor="start" font-weight="normal" font-family="'Liberation Sans', sans-serif" >1.6</text>
<line x1="877.4" y1="1140.3" x2="881.8" y2="1140.3" stroke="#000" stroke-width="3.4" />
<line x1="877.4" y1="1084.7" x2="881.8" y2="1084.7" stroke="#000" stroke-width="3.4" />
<line x1="877.4" y1="1029.1" x2="881.8" y2="1029.1" stroke="#000" stroke-width="3.4" />
<line x1="877.4" y1="973.5" x2="881.8" y2="973.5" stroke="#000" stroke-width="3.4" />
<line x1="877.4" y1="917.9" x2="881.8" y2="917.9" stroke="#000" stroke-width="3.4" />
<line x1="877.4" y1="862.3" x2="881.8" y2="862.3" stroke="#000" stroke-width="3.4" />
<line x1="877.4" y1="806.7" x2="881.8" y2="806.7" stroke="#000" stroke-width="3.4" />
<line x1="877.4" y1="751.1" x2="881.8" y2="751.1" stroke="#000" stroke-width="3.4" />
<polyline points="159.01,1146.97 269.53,1115.84 380.05,1074.69 490.57,1017.98 601.1,957.93 711.62,895.66 822.14,870.08" fill="none" stroke="#808080" stroke-width="5.3" stroke-linejoin="round"/>
<line x1="159.01" y1="1159.43" x2="822.14" y2="862.19" stroke="#e6e600" stroke-width="1.9" />
<polyline points="159.01,1105.83 269.53,1043.56 380.05,981.28 490.57,917.9 601.1,855.63 711.62,793.36 822.14,731.08" fill="none" stroke="#bb8abd" stroke-width="5.3" stroke-linejoin="round"/>
<rect x="154.11" y="1142.07" width="9.8" height="9.8" fill="#000"/>
<rect x="264.63" y="1110.94" width="9.8" height="9.8" fill="#000"/>
<rect x="375.15" y="1069.79" width="9.8" height="9.8" fill="#000"/>
<rect x="485.68" y="1013.08" width="9.8" height="9.8" fill="#000"/>
<rect x="596.2" y="953.03" width="9.8" height="9.8" fill="#000"/>
<rect x="706.72" y="890.76" width="9.8" height="9.8" fill="#000"/>
<rect x="817.24" y="865.18" width="9.8" height="9.8" fill="#000"/>
<rect x="154.11" y="1100.93" width="9.8" height="9.8" fill="#000"/>
<rect x="264.63" y="1038.66" width="9.8" height="9.8" fill="#000"/>
<rect x="375.15" y="976.38" width="9.8" height="9.8" fill="#000"/>
<rect x="485.68" y="913" width="9.8" height="9.8" fill="#000"/>
<rect x="596.2" y="850.73" width="9.8" height="9.8" fill="#000"/>
<rect x="706.72" y="788.46" width="9.8" height="9.8" fill="#000"/>
<rect x="817.24" y="726.18" width="9.8" height="9.8" fill="#000"/>
<text x="490.8" y="673.2" font-size="22.9" text-anchor="middle" font-weight="bold" font-family="'Liberation Sans', sans-serif" textLength="540" lengthAdjust="spacingAndGlyphs">water increase (fuel cell) = 4.45 (mm<tspan dy="-9" font-size="67%">3</tspan><tspan dy="9">/min)/(A/cm</tspan><tspan dy="-9" font-size="67%">2</tspan><tspan dy="9">)</tspan></text>
<text x="490.7" y="704.4" font-size="22.9" text-anchor="middle" font-weight="bold" font-family="'Liberation Sans', sans-serif" textLength="570" lengthAdjust="spacingAndGlyphs">water increase (theoretical) = 5.62 (mm<tspan dy="-9" font-size="67%">3</tspan><tspan dy="9">/min)/(A/cm</tspan><tspan dy="-9" font-size="67%">2</tspan><tspan dy="9">)</tspan></text>
<text x="490.4" y="1251.75" font-size="29" text-anchor="middle" font-weight="bold" font-family="'Liberation Sans', sans-serif" >current [mA/cm<tspan dy="-11.5" font-size="67%">2</tspan><tspan dy="11.5">]</tspan></text>
<text transform="translate(41.8 945.1) rotate(-90)" font-size="28" text-anchor="middle" font-weight="bold" font-family="'DejaVu Sans Condensed', 'DejaVu Sans', 'Liberation Sans', sans-serif" textLength="334" lengthAdjust="spacingAndGlyphs">water volume [mm<tspan dy="-11.2" font-size="72%">3</tspan><tspan dy="11.2">/min]</tspan></text>
<text transform="translate(959.3 945.5) rotate(-90)" font-size="29" text-anchor="middle" font-weight="bold" font-family="'Liberation Sans', sans-serif" >percentage [%/min]</text>
<text x="-1.8" y="713" font-size="51" text-anchor="start" font-weight="bold" font-family="'DejaVu Sans Condensed', 'DejaVu Sans', 'Liberation Sans', sans-serif" textLength="26" lengthAdjust="spacingAndGlyphs">c</text>
<rect x="169.9" y="757.6" width="233" height="114.5" fill="#fff" stroke="#7f7f7f" stroke-width="1.2"/>
<line x1="174.1" y1="777.9" x2="241" y2="777.9" stroke="#808080" stroke-width="5.5" stroke-linecap="round"/>
<rect x="203" y="773" width="9.8" height="9.8" fill="#000"/>
<text x="250.1" y="788.4" font-size="28" text-anchor="start" font-weight="bold" font-family="'DejaVu Sans Condensed', 'DejaVu Sans', 'Liberation Sans', sans-serif" textLength="107.8" lengthAdjust="spacingAndGlyphs">fuel cell</text>
<line x1="173" y1="814.9" x2="242.2" y2="814.9" stroke="#e6e600" stroke-width="2" />
<text x="250.1" y="825.4" font-size="28" text-anchor="start" font-weight="bold" font-family="'DejaVu Sans Condensed', 'DejaVu Sans', 'Liberation Sans', sans-serif" textLength="27" lengthAdjust="spacingAndGlyphs">fit</text>
<line x1="174.1" y1="851.9" x2="241" y2="851.9" stroke="#bb8abd" stroke-width="5.5" stroke-linecap="round"/>
<rect x="203" y="847" width="9.8" height="9.8" fill="#000"/>
<text x="250.1" y="862.4" font-size="28" text-anchor="start" font-weight="bold" font-family="'DejaVu Sans Condensed', 'DejaVu Sans', 'Liberation Sans', sans-serif" textLength="147" lengthAdjust="spacingAndGlyphs">theoretical</text>
</g>
<g id="panel-d">
<line x1="1360.1" y1="723.35" x2="1360.1" y2="1174" stroke="#000" stroke-width="3.4" />
<line x1="1351.4" y1="1169.6" x2="1920.55" y2="1169.6" stroke="#000" stroke-width="3.4" />
<line x1="1911.85" y1="723.35" x2="1911.85" y2="1174" stroke="#000" stroke-width="3.4" />
<line x1="1415.27" y1="1169.6" x2="1415.27" y2="1178.3" stroke="#000" stroke-width="3.4" />
<text x="1415.27" y="1205.4" font-size="27" text-anchor="middle" font-weight="normal" font-family="'Liberation Sans', sans-serif" >0.3</text>
<line x1="1525.62" y1="1169.6" x2="1525.62" y2="1178.3" stroke="#000" stroke-width="3.4" />
<text x="1525.62" y="1205.4" font-size="27" text-anchor="middle" font-weight="normal" font-family="'Liberation Sans', sans-serif" >0.4</text>
<line x1="1635.97" y1="1169.6" x2="1635.97" y2="1178.3" stroke="#000" stroke-width="3.4" />
<text x="1635.97" y="1205.4" font-size="27" text-anchor="middle" font-weight="normal" font-family="'Liberation Sans', sans-serif" >0.5</text>
<line x1="1746.32" y1="1169.6" x2="1746.32" y2="1178.3" stroke="#000" stroke-width="3.4" />
<text x="1746.32" y="1205.4" font-size="27" text-anchor="middle" font-weight="normal" font-family="'Liberation Sans', sans-serif" >0.6</text>
<line x1="1856.67" y1="1169.6" x2="1856.67" y2="1178.3" stroke="#000" stroke-width="3.4" />
<text x="1856.67" y="1205.4" font-size="27" text-anchor="middle" font-weight="normal" font-family="'Liberation Sans', sans-serif" >0.7</text>
<line x1="1360.1" y1="1169.6" x2="1360.1" y2="1174" stroke="#000" stroke-width="3.4" />
<line x1="1470.45" y1="1169.6" x2="1470.45" y2="1174" stroke="#000" stroke-width="3.4" />
<line x1="1580.8" y1="1169.6" x2="1580.8" y2="1174" stroke="#000" stroke-width="3.4" />
<line x1="1691.15" y1="1169.6" x2="1691.15" y2="1174" stroke="#000" stroke-width="3.4" />
<line x1="1801.5" y1="1169.6" x2="1801.5" y2="1174" stroke="#000" stroke-width="3.4" />
<line x1="1911.85" y1="1169.6" x2="1911.85" y2="1174" stroke="#000" stroke-width="3.4" />
<line x1="1351.4" y1="1169.6" x2="1360.1" y2="1169.6" stroke="#000" stroke-width="3.4" />
<text x="1345.6" y="1177.9" font-size="27" text-anchor="end" font-weight="normal" font-family="'Liberation Sans', sans-serif" >0.0</text>
<line x1="1351.4" y1="1120.21" x2="1360.1" y2="1120.21" stroke="#000" stroke-width="3.4" />
<text x="1345.6" y="1128.51" font-size="27" text-anchor="end" font-weight="normal" font-family="'Liberation Sans', sans-serif" >0.5</text>
<line x1="1351.4" y1="1070.81" x2="1360.1" y2="1070.81" stroke="#000" stroke-width="3.4" />
<text x="1345.6" y="1079.11" font-size="27" text-anchor="end" font-weight="normal" font-family="'Liberation Sans', sans-serif" >1.0</text>
<line x1="1351.4" y1="1021.42" x2="1360.1" y2="1021.42" stroke="#000" stroke-width="3.4" />
<text x="1345.6" y="1029.72" font-size="27" text-anchor="end" font-weight="normal" font-family="'Liberation Sans', sans-serif" >1.5</text>
<line x1="1351.4" y1="972.02" x2="1360.1" y2="972.02" stroke="#000" stroke-width="3.4" />
<text x="1345.6" y="980.32" font-size="27" text-anchor="end" font-weight="normal" font-family="'Liberation Sans', sans-serif" >2.0</text>
<line x1="1351.4" y1="922.63" x2="1360.1" y2="922.63" stroke="#000" stroke-width="3.4" />
<text x="1345.6" y="930.93" font-size="27" text-anchor="end" font-weight="normal" font-family="'Liberation Sans', sans-serif" >2.5</text>
<line x1="1351.4" y1="873.23" x2="1360.1" y2="873.23" stroke="#000" stroke-width="3.4" />
<text x="1345.6" y="881.53" font-size="27" text-anchor="end" font-weight="normal" font-family="'Liberation Sans', sans-serif" >3.0</text>
<line x1="1351.4" y1="823.84" x2="1360.1" y2="823.84" stroke="#000" stroke-width="3.4" />
<text x="1345.6" y="832.14" font-size="27" text-anchor="end" font-weight="normal" font-family="'Liberation Sans', sans-serif" >3.5</text>
<line x1="1351.4" y1="774.44" x2="1360.1" y2="774.44" stroke="#000" stroke-width="3.4" />
<text x="1345.6" y="782.74" font-size="27" text-anchor="end" font-weight="normal" font-family="'Liberation Sans', sans-serif" >4.0</text>
<line x1="1351.4" y1="725.05" x2="1360.1" y2="725.05" stroke="#000" stroke-width="3.4" />
<text x="1345.6" y="733.35" font-size="27" text-anchor="end" font-weight="normal" font-family="'Liberation Sans', sans-serif" >4.5</text>
<line x1="1355.7" y1="1144.9" x2="1360.1" y2="1144.9" stroke="#000" stroke-width="3.4" />
<line x1="1355.7" y1="1095.51" x2="1360.1" y2="1095.51" stroke="#000" stroke-width="3.4" />
<line x1="1355.7" y1="1046.11" x2="1360.1" y2="1046.11" stroke="#000" stroke-width="3.4" />
<line x1="1355.7" y1="996.72" x2="1360.1" y2="996.72" stroke="#000" stroke-width="3.4" />
<line x1="1355.7" y1="947.32" x2="1360.1" y2="947.32" stroke="#000" stroke-width="3.4" />
<line x1="1355.7" y1="897.93" x2="1360.1" y2="897.93" stroke="#000" stroke-width="3.4" />
<line x1="1355.7" y1="848.54" x2="1360.1" y2="848.54" stroke="#000" stroke-width="3.4" />
<line x1="1355.7" y1="799.14" x2="1360.1" y2="799.14" stroke="#000" stroke-width="3.4" />
<line x1="1355.7" y1="749.75" x2="1360.1" y2="749.75" stroke="#000" stroke-width="3.4" />
<line x1="1911.85" y1="1169.6" x2="1920.55" y2="1169.6" stroke="#000" stroke-width="3.4" />
<text x="1926.15" y="1177.9" font-size="27" text-anchor="start" font-weight="normal" font-family="'Liberation Sans', sans-serif" >0.0</text>
<line x1="1911.85" y1="1120.21" x2="1920.55" y2="1120.21" stroke="#000" stroke-width="3.4" />
<text x="1926.15" y="1128.51" font-size="27" text-anchor="start" font-weight="normal" font-family="'Liberation Sans', sans-serif" >0.2</text>
<line x1="1911.85" y1="1070.81" x2="1920.55" y2="1070.81" stroke="#000" stroke-width="3.4" />
<text x="1926.15" y="1079.11" font-size="27" text-anchor="start" font-weight="normal" font-family="'Liberation Sans', sans-serif" >0.4</text>
<line x1="1911.85" y1="1021.42" x2="1920.55" y2="1021.42" stroke="#000" stroke-width="3.4" />
<text x="1926.15" y="1029.72" font-size="27" text-anchor="start" font-weight="normal" font-family="'Liberation Sans', sans-serif" >0.6</text>
<line x1="1911.85" y1="972.02" x2="1920.55" y2="972.02" stroke="#000" stroke-width="3.4" />
<text x="1926.15" y="980.32" font-size="27" text-anchor="start" font-weight="normal" font-family="'Liberation Sans', sans-serif" >0.8</text>
<line x1="1911.85" y1="922.63" x2="1920.55" y2="922.63" stroke="#000" stroke-width="3.4" />
<text x="1926.15" y="930.93" font-size="27" text-anchor="start" font-weight="normal" font-family="'Liberation Sans', sans-serif" >1.0</text>
<line x1="1911.85" y1="873.23" x2="1920.55" y2="873.23" stroke="#000" stroke-width="3.4" />
<text x="1926.15" y="881.53" font-size="27" text-anchor="start" font-weight="normal" font-family="'Liberation Sans', sans-serif" >1.2</text>
<line x1="1911.85" y1="823.84" x2="1920.55" y2="823.84" stroke="#000" stroke-width="3.4" />
<text x="1926.15" y="832.14" font-size="27" text-anchor="start" font-weight="normal" font-family="'Liberation Sans', sans-serif" >1.4</text>
<line x1="1911.85" y1="774.44" x2="1920.55" y2="774.44" stroke="#000" stroke-width="3.4" />
<text x="1926.15" y="782.74" font-size="27" text-anchor="start" font-weight="normal" font-family="'Liberation Sans', sans-serif" >1.6</text>
<line x1="1911.85" y1="725.05" x2="1920.55" y2="725.05" stroke="#000" stroke-width="3.4" />
<text x="1926.15" y="733.35" font-size="27" text-anchor="start" font-weight="normal" font-family="'Liberation Sans', sans-serif" >1.8</text>
<line x1="1911.85" y1="1144.9" x2="1916.25" y2="1144.9" stroke="#000" stroke-width="3.4" />
<line x1="1911.85" y1="1095.51" x2="1916.25" y2="1095.51" stroke="#000" stroke-width="3.4" />
<line x1="1911.85" y1="1046.11" x2="1916.25" y2="1046.11" stroke="#000" stroke-width="3.4" />
<line x1="1911.85" y1="996.72" x2="1916.25" y2="996.72" stroke="#000" stroke-width="3.4" />
<line x1="1911.85" y1="947.32" x2="1916.25" y2="947.32" stroke="#000" stroke-width="3.4" />
<line x1="1911.85" y1="897.93" x2="1916.25" y2="897.93" stroke="#000" stroke-width="3.4" />
<line x1="1911.85" y1="848.54" x2="1916.25" y2="848.54" stroke="#000" stroke-width="3.4" />
<line x1="1911.85" y1="799.14" x2="1916.25" y2="799.14" stroke="#000" stroke-width="3.4" />
<line x1="1911.85" y1="749.75" x2="1916.25" y2="749.75" stroke="#000" stroke-width="3.4" />
<polyline points="1415.27,891.02 1635.97,1021.42 1856.67,1131.57" fill="none" stroke="#808080" stroke-width="5.3" stroke-linejoin="round"/>
<polyline points="1415.27,740.86 1635.97,915.71 1856.67,1050.07" fill="none" stroke="#bb8abd" stroke-width="5.3" stroke-linejoin="round"/>
<line x1="1415.27" y1="894.97" x2="1856.67" y2="1135.22" stroke="#e6e600" stroke-width="1.9" />
<line x1="1415.27" y1="745.8" x2="1856.67" y2="1056.88" stroke="#008080" stroke-width="1.9" />
<rect x="1410.37" y="886.12" width="9.8" height="9.8" fill="#000"/>
<rect x="1631.07" y="1016.52" width="9.8" height="9.8" fill="#000"/>
<rect x="1851.77" y="1126.67" width="9.8" height="9.8" fill="#000"/>
<rect x="1410.37" y="735.96" width="9.8" height="9.8" fill="#000"/>
<rect x="1631.07" y="910.81" width="9.8" height="9.8" fill="#000"/>
<rect x="1851.77" y="1045.17" width="9.8" height="9.8" fill="#000"/>
<text x="1635.6" y="674.8" font-size="22.9" text-anchor="middle" font-weight="bold" font-family="'Liberation Sans', sans-serif" textLength="497.8" lengthAdjust="spacingAndGlyphs">water increase (fuel cell) = -6.08 (mm<tspan dy="-9" font-size="67%">3</tspan><tspan dy="9">/min)/(V)</tspan></text>
<text x="1635.6" y="706" font-size="22.9" text-anchor="middle" font-weight="bold" font-family="'Liberation Sans', sans-serif" textLength="528.8" lengthAdjust="spacingAndGlyphs">water increase (theoretical) = -7.83 (mm<tspan dy="-9" font-size="67%">3</tspan><tspan dy="9">/min)/(V)</tspan></text>
<text x="1635.4" y="1250" font-size="29" text-anchor="middle" font-weight="bold" font-family="'Liberation Sans', sans-serif" >potential [V]</text>
<text transform="translate(1298.3 947.5) rotate(-90)" font-size="28" text-anchor="middle" font-weight="bold" font-family="'DejaVu Sans Condensed', 'DejaVu Sans', 'Liberation Sans', sans-serif" textLength="334" lengthAdjust="spacingAndGlyphs">water volume [mm<tspan dy="-11.2" font-size="72%">3</tspan><tspan dy="11.2">/min]</tspan></text>
<text transform="translate(1993.7 947.3) rotate(-90)" font-size="29" text-anchor="middle" font-weight="bold" font-family="'Liberation Sans', sans-serif" >percentage [%/min]</text>
<text x="1251" y="712.8" font-size="51.5" text-anchor="start" font-weight="bold" font-family="'DejaVu Sans Condensed', 'DejaVu Sans', 'Liberation Sans', sans-serif" textLength="33.2" lengthAdjust="spacingAndGlyphs">d</text>
<rect x="1636.4" y="731" width="269.1" height="152.7" fill="#fff" stroke="#a8a8a8" stroke-width="1.6"/>
<line x1="1641.3" y1="752.2" x2="1708.1" y2="752.2" stroke="#808080" stroke-width="5.5" stroke-linecap="round"/>
<rect x="1669.7" y="747.3" width="9.8" height="9.8" fill="#000"/>
<text x="1717.2" y="762.6" font-size="28" text-anchor="start" font-weight="bold" font-family="'DejaVu Sans Condensed', 'DejaVu Sans', 'Liberation Sans', sans-serif" textLength="107.3" lengthAdjust="spacingAndGlyphs">fuel cell</text>
<line x1="1641.3" y1="789" x2="1708.1" y2="789" stroke="#bb8abd" stroke-width="5.5" stroke-linecap="round"/>
<rect x="1669.7" y="784.1" width="9.8" height="9.8" fill="#000"/>
<text x="1717.2" y="799.4" font-size="28" text-anchor="start" font-weight="bold" font-family="'DejaVu Sans Condensed', 'DejaVu Sans', 'Liberation Sans', sans-serif" textLength="146.5" lengthAdjust="spacingAndGlyphs">theoretical</text>
<line x1="1640" y1="826" x2="1708.8" y2="826" stroke="#e6e600" stroke-width="2" />
<text x="1717.2" y="836.4" font-size="28" text-anchor="start" font-weight="bold" font-family="'DejaVu Sans Condensed', 'DejaVu Sans', 'Liberation Sans', sans-serif" textLength="143.6" lengthAdjust="spacingAndGlyphs">fit fuel cell</text>
<line x1="1640" y1="863.1" x2="1708.8" y2="863.1" stroke="#008080" stroke-width="2" />
<text x="1717.2" y="873.5" font-size="28" text-anchor="start" font-weight="bold" font-family="'DejaVu Sans Condensed', 'DejaVu Sans', 'Liberation Sans', sans-serif" textLength="182.6" lengthAdjust="spacingAndGlyphs">fit theoretical</text>
</g>
</svg>
</body></html>
